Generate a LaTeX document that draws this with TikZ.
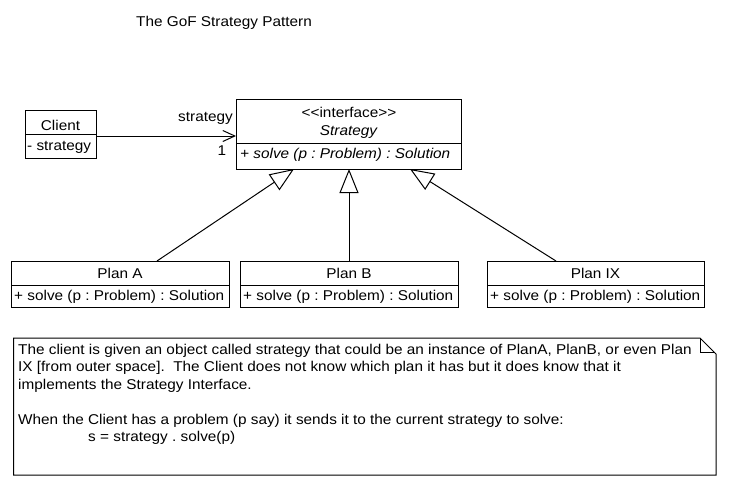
\documentclass[tikz,border=0pt]{standalone}
\usepackage{fontspec}
\setmainfont{Liberation Sans}[FakeStretch=1.08]
\usetikzlibrary{arrows.meta}
\newcommand\dfont{\fontsize{14.2}{17.5}\selectfont}
\frenchspacing
\begin{document}
\frenchspacing
\begin{tikzpicture}[x=1pt,y=-1pt, font=\dfont,
 cls/.style={draw, line width=1pt, inner sep=0pt, outer sep=0pt, anchor=north west},
 txt/.style={inner sep=0pt, anchor=base},
 txtl/.style={inner sep=0pt, anchor=base west},
 ital/.style={font=\dfont\itshape},
 divline/.style={line width=1pt},
 inh/.style={line width=1pt, -{Triangle[open, length=24pt, width=19pt, line width=1pt]}},
 assoc/.style={line width=1pt, -{Straight Barb[length=12pt, width=11pt, line width=1pt]}},
 notebox/.style={line width=1pt}]
\useasboundingbox[fill=white] (0,0) rectangle (729,501);

% title
\node[txt] (title) at (224,26) {The GoF Strategy Pattern};

% Client
\node[cls, minimum width=71pt, minimum height=48pt] (client) at (25,110) {};
\draw[divline] (25,134) -- (96,134);
\node[txt] (cname) at (60.5,130) {Client};
\node[txtl] (cattr) at (27,150) {- strategy};

% Strategy interface
\node[cls, minimum width=225pt, minimum height=70pt] (strategy) at (236,99) {};
\draw[divline] (236,143) -- (461,143);
\node[txt] (sster) at (349,117) {<\kern0pt<interface>\kern0pt>};
\node[txt, ital] (sname) at (348.5,135) {Strategy};
\node[txtl, ital] (sop) at (240,158) {+ solve (p : Problem) : Solution};

% association
\coordinate (aS) at ([yshift=-2pt]client.east);
\draw[assoc] (aS) -- (aS -| strategy.west);
\node[inner sep=0pt, anchor=base east] (rolelbl) at (233,121) {strategy};
\node[txt] (mult) at (222,155) {1};

% Plans
\node[cls, minimum width=218pt, minimum height=46pt] (planA) at (11,261) {};
\node[cls, minimum width=218pt, minimum height=46pt] (planB) at (240,261) {};
\node[cls, minimum width=217pt, minimum height=46pt] (planIX) at (487,261) {};
\draw[divline] (11,285) -- (229,285);
\draw[divline] (240,285) -- (458,285);
\draw[divline] (487,285) -- (704,285);
\node[txt] (pAname) at (120,278.5) {Plan A};
\node[txt] (pBname) at (349,278.5) {Plan B};
\node[txt] (pIXname) at (595.5,278.5) {Plan IX};
\node[txtl] (pAop) at (14,300) {+ solve (p : Problem) : Solution};
\node[txtl] (pBop) at (243,300) {+ solve (p : Problem) : Solution};
\node[txtl] (pIXop) at (490,300) {+ solve (p : Problem) : Solution};

% generalizations
\draw[inh] ([xshift=37pt]planA.north) -- ([xshift=-54.5pt]strategy.south);
\draw[inh] (planB.north) -- (planB.north |- strategy.south);
\draw[inh] ([xshift=-39.5pt]planIX.north) -- ([xshift=61.5pt]strategy.south);

% note
\draw[notebox] (13.5,338) -- (700,338) -- (716,354) -- (716,475) -- (13.5,475) -- cycle;
\draw[notebox] (700,338) -- (700,352) -- (714,352);
\node[txtl] (n1) at (18,354) {The client is given an object called strategy that could be an instance of PlanA, PlanB, or even Plan};
\node[txtl] (n2) at (18,371.5) {IX [from outer space]. \ The Client does not know which plan it has but it does know that it};
\node[txtl] (n3) at (18,389) {implements the Strategy Interface.};
\node[txtl] (n4) at (18,424) {When the Client has a problem (p say) it sends it to the current strategy to solve:};
\node[txtl] (n5) at (88,441.5) {s = strategy . solve(p)};
\end{tikzpicture}
\end{document}
